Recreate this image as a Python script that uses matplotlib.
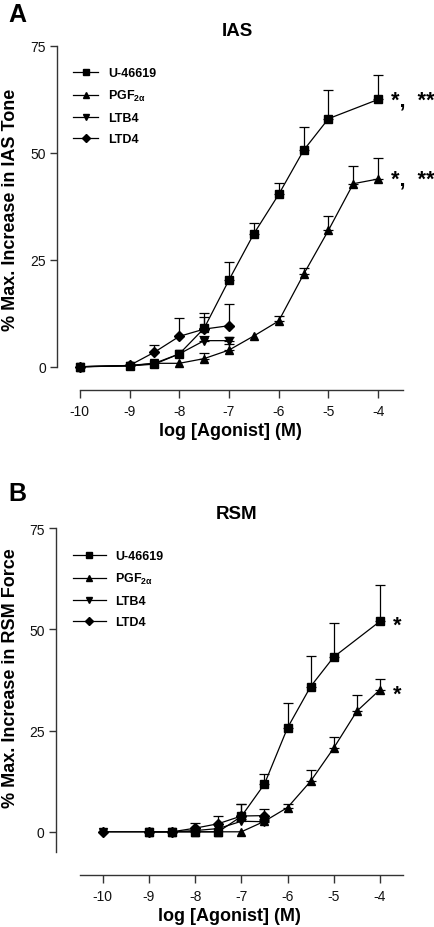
import numpy as np
import matplotlib
matplotlib.use("Agg")
import matplotlib.pyplot as plt
from matplotlib.lines import Line2D

plt.rcParams['font.family'] = ['Liberation Sans', 'DejaVu Sans']
plt.rcParams['mathtext.fontset'] = 'custom'
plt.rcParams['mathtext.rm'] = 'Liberation Sans:bold'
plt.rcParams['mathtext.it'] = 'Liberation Sans:bold'
plt.rcParams['mathtext.bf'] = 'Liberation Sans:bold'

# ---------------- data ----------------
series_names = ['U-46619', 'PGF$_{2\\alpha}$', 'LTB4', 'LTD4']
series_markers = ['s', '^', 'v', 'D']

# Panel A: IAS
ias_u_x = [-10, -9, -8.5, -8, -7.5, -7, -6.5, -6, -5.5, -5, -4]
ias_u_y = [0, 0.2, 0.6, 3.0, 9.0, 20.3, 31.1, 40.3, 50.6, 58.0, 62.5]
ias_u_e = [0, 0, 0, 0, 3.5, 4.3, 2.5, 2.6, 5.5, 6.6, 5.8]

ias_pgf_x = [-10, -9, -8.5, -8, -7.5, -7, -6.5, -6, -5.5, -5, -4.5, -4]
ias_pgf_y = [0, 0.3, 0.8, 0.8, 1.9, 3.9, 7.2, 10.7, 21.6, 31.9, 42.8, 43.9]
ias_pgf_e = [0, 0, 0, 0, 1.3, 1.4, 0, 1.2, 1.6, 3.4, 4.2, 4.8]

ias_ltb_x = [-10, -9, -8.5, -8, -7.5, -7]
ias_ltb_y = [0, 0.2, 0.8, 3.0, 6.1, 6.1]
ias_ltb_e = [0, 0, 0, 0, 1.0, 0.8]

ias_ltd_x = [-10, -9, -8.5, -8, -7.5, -7]
ias_ltd_y = [0, 0.3, 3.4, 7.1, 8.8, 9.6]
ias_ltd_e = [0, 0, 1.7, 4.2, 2.9, 5.0]

# Panel B: RSM
rsm_u_x = [-9, -8.5, -8, -7.5, -7, -6.5, -6, -5.5, -5, -4]
rsm_u_y = [0, 0, 0, 0, 3.8, 11.8, 25.7, 35.9, 43.2, 52.0]
rsm_u_e = [0, 0, 0.5, 0, 3.1, 2.5, 6.2, 7.6, 8.4, 9.0]

rsm_pgf_x = [-9, -8.5, -8, -7.5, -7, -6.5, -6, -5.5, -5, -4.5, -4]
rsm_pgf_y = [0, 0, 0, 0, 0, 2.6, 6.0, 12.5, 20.7, 29.8, 35.1]
rsm_pgf_e = [0, 0, 0, 0, 0, 0.5, 0.9, 2.8, 2.8, 4.0, 2.7]

rsm_ltb_x = [-10, -9, -8.5, -8, -7.5, -7, -6.5]
rsm_ltb_y = [0, 0, 0, 0.3, 0.8, 2.6, 2.5]
rsm_ltb_e = [0, 0, 0, 0, 0, 0.6, 0.5]

rsm_ltd_x = [-10, -9, -8.5, -8, -7.5, -7, -6.5]
rsm_ltd_y = [0, 0, 0, 0.9, 2.0, 3.9, 4.0]
rsm_ltd_e = [0, 0, 0, 1.2, 2.0, 3.0, 1.6]

x_ticks = [-10, -9, -8, -7, -6, -5, -4]
y_ticks = [0, 25, 50, 75]

ias_stars = ['*,  **', '*,  **']
rsm_stars = ['*', '*']

# ---------------- figure ----------------
W, H = 434, 928
fig = plt.figure(figsize=(W / 100, H / 100), dpi=100)

spine_col = '#333333'
msz = {'s': 5.6, '^': 6.4, 'v': 6.4, 'D': 5.0}


def draw_series(ax, x, y, e, marker):
    x = np.asarray(x, float); y = np.asarray(y, float); e = np.asarray(e, float)
    m = e > 0
    if m.any():
        ax.errorbar(x[m], y[m], yerr=[np.zeros(m.sum()), e[m]], fmt='none',
                    ecolor='black', elinewidth=0.9, capsize=3.5, capthick=0.9,
                    zorder=2)
    ax.plot(x, y, color='black', lw=0.9, marker=marker, ms=msz[marker],
            mfc='black', mec='black', zorder=3, clip_on=False)


def style_axes(ax, xlim, ylim, ybounds, xbounds):
    ax.set_xlim(*xlim)
    ax.set_ylim(*ylim)
    for s in ['top', 'right']:
        ax.spines[s].set_visible(False)
    ax.spines['left'].set_bounds(*ybounds)
    ax.spines['bottom'].set_bounds(*xbounds)
    for s in ['left', 'bottom']:
        ax.spines[s].set_color(spine_col)
        ax.spines[s].set_linewidth(1.0)
    ax.set_xticks(x_ticks)
    ax.set_xticklabels([str(t) for t in x_ticks])
    ax.set_yticks(y_ticks)
    ax.tick_params(axis='both', direction='out', length=5, width=1.0,
                   color=spine_col, labelsize=10, labelcolor='#111111')
    ax.tick_params(axis='x', length=6, pad=4)
    ax.tick_params(axis='y', pad=3)
    ax.set_xlabel('log [Agonist] (M)', fontsize=13, fontweight='bold', labelpad=3)


def add_legend(ax, x0, ytop, hl, pad, spacing):
    handles = [Line2D([0], [0], color='black', lw=0.9, marker=mk,
                      ms=msz[mk] * 0.75, mfc='black', mec='black')
               for mk in series_markers]
    leg = ax.legend(handles, series_names, loc='upper left',
                    bbox_to_anchor=(x0 / W, 1 - ytop / H),
                    bbox_transform=fig.transFigure, frameon=False,
                    borderpad=0, borderaxespad=0, handlelength=hl,
                    handletextpad=pad, labelspacing=spacing,
                    prop={'family': 'Liberation Sans', 'weight': 'bold',
                          'size': 9})
    return leg


# Panel A
axA = fig.add_axes([57 / W, 1 - 390.7 / H, 346 / W, 343.7 / H])
draw_series(axA, ias_u_x, ias_u_y, ias_u_e, 's')
draw_series(axA, ias_pgf_x, ias_pgf_y, ias_pgf_e, '^')
draw_series(axA, ias_ltb_x, ias_ltb_y, ias_ltb_e, 'v')
draw_series(axA, ias_ltd_x, ias_ltd_y, ias_ltd_e, 'D')
style_axes(axA, (-10.46, -3.5), (-5.37, 75), (0, 75), (-10, -3.5))
fig.text(10.5 / W, 1 - 210 / H, '% Max. Increase in IAS Tone', fontsize=13,
         fontweight='bold', rotation=90, ha='center', va='center')
add_legend(axA, 73, 68, 2.0, 0.8, 0.72)
for s, yv in zip(ias_stars, [ias_u_y[-1], ias_pgf_y[-1]]):
    axA.annotate(s, xy=(-4, yv), xytext=(9, -4), textcoords='offset points',
                 fontsize=15.5, fontweight='bold', va='baseline', ha='left',
                 annotation_clip=False)

fig.text(237 / W, 1 - 31 / H, 'IAS', fontsize=13.5, fontweight='bold',
         ha='center', va='center')
fig.text(8 / W, 1 - 15 / H, 'A', fontsize=18, fontweight='bold',
         ha='left', va='center')

# Panel B
axB = fig.add_axes([55.7 / W, 1 - 875.7 / H, 347.3 / W, 346.4 / H])
draw_series(axB, rsm_u_x, rsm_u_y, rsm_u_e, 's')
draw_series(axB, rsm_pgf_x, rsm_pgf_y, rsm_pgf_e, '^')
draw_series(axB, rsm_ltb_x, rsm_ltb_y, rsm_ltb_e, 'v')
draw_series(axB, rsm_ltd_x, rsm_ltd_y, rsm_ltd_e, 'D')
style_axes(axB, (-11.02, -3.5), (-10.6, 75), (-5, 75), (-10.5, -3.5))
fig.text(10.5 / W, 1 - 678 / H, '% Max. Increase in RSM Force', fontsize=13,
         fontweight='bold', rotation=90, ha='center', va='center')
add_legend(axB, 73, 551, 2.6, 0.75, 0.72)
for s, yv in zip(rsm_stars, [rsm_u_y[-1], rsm_pgf_y[-1]]):
    axB.annotate(s, xy=(-4, yv), xytext=(9, -7), textcoords='offset points',
                 fontsize=15.5, fontweight='bold', va='baseline', ha='left',
                 annotation_clip=False)

fig.text(237 / W, 1 - 515 / H, 'RSM', fontsize=13.5, fontweight='bold',
         ha='center', va='center')
fig.text(8 / W, 1 - 494 / H, 'B', fontsize=18, fontweight='bold',
         ha='left', va='center')

fig.savefig('out.png', dpi=100)
